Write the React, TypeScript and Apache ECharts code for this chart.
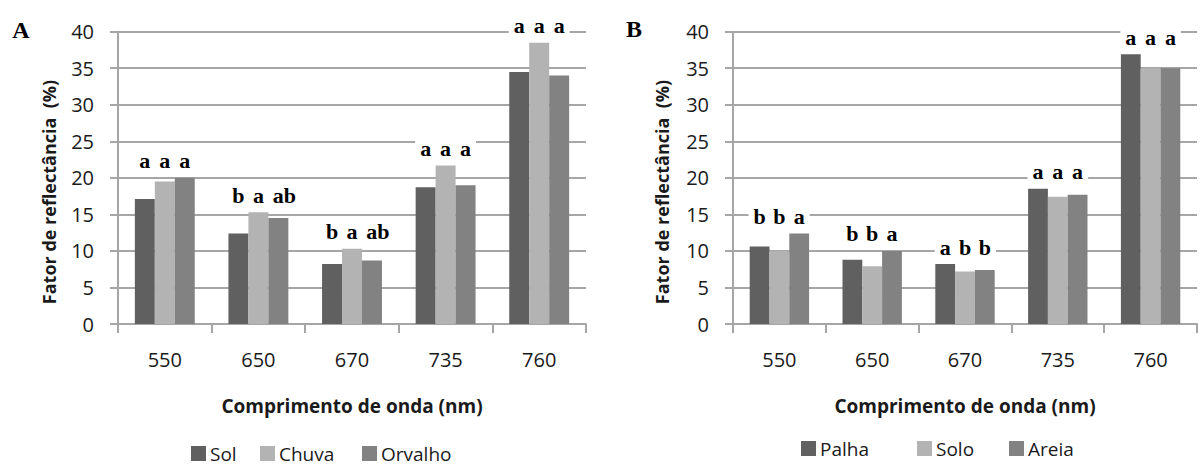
import React, { useEffect, useRef } from "react";
import * as echarts from "echarts";

const categories = ["550", "650", "670", "735", "760"];

const seriesNamesA = ["Sol", "Chuva", "Orvalho"];
const solA = [17.1, 12.4, 8.2, 18.7, 34.5];
const chuvaA = [19.5, 15.3, 10.3, 21.7, 38.5];
const orvalhoA = [20.0, 14.5, 8.7, 19.0, 34.0];
const lettersSolA = ["a", "b", "b", "a", "a"];
const lettersChuvaA = ["a", "a", "a", "a", "a"];
const lettersOrvalhoA = ["a", "ab", "ab", "a", "a"];

const seriesNamesB = ["Palha", "Solo", "Areia"];
const palhaB = [10.6, 8.8, 8.2, 18.5, 36.9];
const soloB = [10.0, 7.9, 7.2, 17.4, 35.0];
const areiaB = [12.4, 10.0, 7.4, 17.7, 35.0];
const lettersPalhaB = ["b", "b", "a", "a", "a"];
const lettersSoloB = ["b", "b", "b", "a", "a"];
const lettersAreiaB = ["a", "a", "b", "a", "a"];

const barColors = ["#606060", "#b3b3b3", "#828282"];
const gridColor = "#a6a6a6";
const textColor = "#1a1a1a";
const sans = "Open Sans";
const serif = "Liberation Serif";

function panel(
  names: string[],
  values: number[][],
  letters: string[][],
  visX: number,
  hidX: number,
  yIdx: number
) {
  const groupMax = categories.map((_, i) => Math.max(...values.map((v) => v[i])));
  const out: any[] = [];
  values.forEach((v, k) => {
    out.push({
      type: "bar",
      name: names[k],
      xAxisIndex: visX,
      yAxisIndex: yIdx,
      data: v,
      barGap: "0%",
      barCategoryGap: "36%",
      itemStyle: { color: barColors[k] },
    });
  });
  values.forEach((_, k) => {
    out.push({
      type: "bar",
      name: "lbl" + visX + "_" + k,
      xAxisIndex: hidX,
      yAxisIndex: yIdx,
      data: groupMax.map((m, i) => {
        const two = letters[k][i].length > 1;
        return {
          value: m,
          label: { padding: [0, two ? 1 : 5], offset: [two ? 6 : 0, 0] },
        };
      }),
      barGap: "0%",
      barCategoryGap: "36%",
      silent: true,
      itemStyle: { color: "rgba(0,0,0,0)" },
      label: {
        show: true,
        position: "top",
        distance: 6,
        formatter: (p: any) => letters[k][p.dataIndex],
        fontFamily: serif,
        fontWeight: "bold",
        fontSize: 22,
        lineHeight: 22,
        color: "#000",
        backgroundColor: "#fff",
      },
    });
  });
  return out;
}

function xAxes(gridIndex: number) {
  return [
    {
      type: "category",
      gridIndex,
      data: categories,
      name: "Comprimento de onda (nm)",
      nameLocation: "middle",
      nameGap: 72,
      nameTextStyle: { fontFamily: sans, fontWeight: "bold", fontSize: 19, color: textColor },
      axisLine: { show: true, lineStyle: { color: gridColor, width: 2 } },
      axisTick: { show: true, length: 9, interval: 0, lineStyle: { color: gridColor, width: 2 } },
      axisLabel: { margin: 25, fontFamily: sans, fontSize: 20, color: textColor },
    },
    {
      type: "category",
      gridIndex,
      data: categories,
      show: false,
    },
  ];
}

function yAxis(gridIndex: number) {
  return {
    type: "value",
    gridIndex,
    min: 0,
    max: 40,
    interval: 5,
    axisLine: { show: true, lineStyle: { color: gridColor, width: 2 } },
    axisTick: { show: true, length: 8, lineStyle: { color: gridColor, width: 2 } },
    splitLine: { show: true, lineStyle: { color: gridColor, width: 2 } },
    axisLabel: { margin: 24, fontFamily: sans, fontSize: 20, color: textColor },
  };
}

function legendItem(name: string, left: number, top: number) {
  return {
    data: [name],
    left,
    top,
    padding: 0,
    icon: "rect",
    itemWidth: 15,
    itemHeight: 15,
    itemStyle: { borderWidth: 0 },
    textStyle: { fontFamily: sans, fontSize: 19, lineHeight: 16, color: textColor, padding: [0, 0, 0, -1] },
  };
}

export default function App() {
  const ref = useRef<HTMLDivElement>(null);
  useEffect(() => {
    if (!ref.current) return;
    const chart = echarts.init(ref.current, undefined, { renderer: "svg" });
    const option: any = {
      animation: false,
      backgroundColor: "#ffffff",
      grid: [
        { left: 118, width: 468, top: 31.7, bottom: 142 },
        { left: 733, width: 464, top: 31.7, bottom: 142 },
      ],
      xAxis: [...xAxes(0), ...xAxes(1)],
      yAxis: [yAxis(0), yAxis(1)],
      legend: [
        legendItem(seriesNamesA[0], 191, 444),
        legendItem(seriesNamesA[1], 260, 444),
        legendItem(seriesNamesA[2], 362, 444),
        legendItem(seriesNamesB[0], 801, 439),
        legendItem(seriesNamesB[1], 917, 439),
        legendItem(seriesNamesB[2], 1009, 439),
      ],
      series: [
        ...panel(seriesNamesA, [solA, chuvaA, orvalhoA], [lettersSolA, lettersChuvaA, lettersOrvalhoA], 0, 1, 0),
        ...panel(seriesNamesB, [palhaB, soloB, areiaB], [lettersPalhaB, lettersSoloB, lettersAreiaB], 2, 3, 1),
      ],
      graphic: [
        {
          type: "text",
          x: 21,
          y: 30,
          style: { text: "A", font: `bold 24px "${serif}"`, fill: "#000", textAlign: "center", textVerticalAlign: "middle" },
        },
        {
          type: "text",
          x: 634,
          y: 29,
          style: { text: "B", font: `bold 24px "${serif}"`, fill: "#000", textAlign: "center", textVerticalAlign: "middle" },
        },
        {
          type: "text",
          x: 49,
          y: 192,
          rotation: Math.PI / 2,
          style: {
            text: "Fator de reflectância  (%)",
            font: `bold 18px "${sans}"`,
            fill: textColor,
            textAlign: "center",
            textVerticalAlign: "middle",
          },
        },
        {
          type: "text",
          x: 662,
          y: 192,
          rotation: Math.PI / 2,
          style: {
            text: "Fator de reflectância  (%)",
            font: `bold 18px "${sans}"`,
            fill: textColor,
            textAlign: "center",
            textVerticalAlign: "middle",
          },
        },
      ],
    };
    chart.setOption(option);
    return () => chart.dispose();
  }, []);
  return (
    <div
      ref={ref}
      style={{ position: "absolute", left: 0, top: 0, width: 1203, height: 466 }}
    />
  );
}
